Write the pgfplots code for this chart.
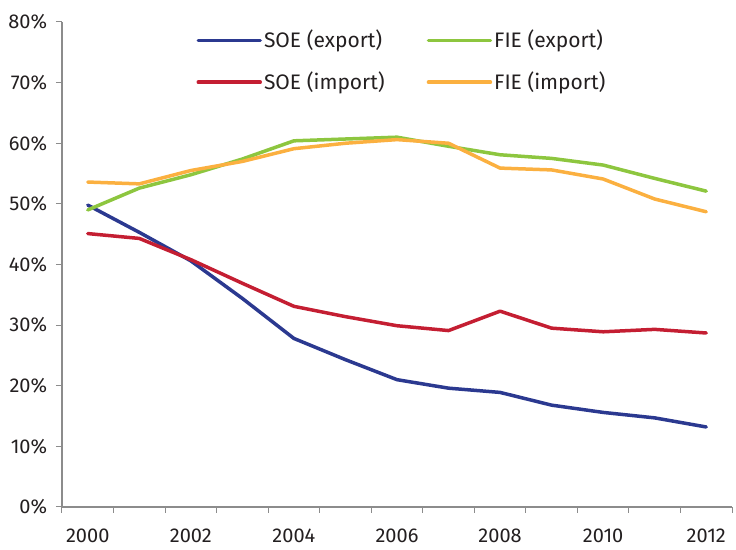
\documentclass[border=0pt]{standalone}
\usepackage{fontspec}
\setmainfont{Fira Sans}
\usepackage{pgfplots}
\pgfplotsset{compat=1.18}
\definecolor{soeexp}{HTML}{2B3990}
\definecolor{soeimp}{HTML}{C41E32}
\definecolor{fieexp}{HTML}{8DC63F}
\definecolor{fieimp}{HTML}{FBB040}
\definecolor{axgray}{HTML}{8C8C8C}
\definecolor{txt}{HTML}{231F20}
\begin{document}
\fontsize{20bp}{23bp}\selectfont
\begin{tikzpicture}
\begin{axis}[
  scale only axis,
  width=670bp, height=485bp,
  xmin=-0.5, xmax=12.5,
  ymin=0, ymax=80,
  axis x line*=bottom, axis y line*=left,
  axis line style={axgray, line width=1.3bp},
  xtick={0,2,4,6,8,10,12},
  xticklabels={2000,2002,2004,2006,2008,2010,2012},
  minor xtick={-0.5,0.5,...,12.5},
  tick align=outside,
  major x tick style={draw=none},
  minor tick length=6bp,
  major tick length=6bp,
  tick style={axgray, line width=1bp},
  ytick={0,10,...,80},
  yticklabel={\pgfmathprintnumber{\tick}\%},
  /pgf/number format/assume math mode=true,
  ticklabel style={font=\fontsize{20bp}{23bp}\selectfont, text=txt},
  xticklabel style={yshift=-9bp},
  yticklabel style={xshift=-2bp},
  legend columns=2,
  legend cell align=left,
  legend style={at={(0.196,0.992)}, anchor=north west, draw=none, fill=none,
    font=\fontsize{21bp}{24bp}\selectfont, text=txt,
    /tikz/every even column/.append style={column sep=40bp},
    row sep=17bp},
  legend image code/.code={\draw[#1, line width=3.5bp] (0bp,0bp) -- (62bp,0bp);},
  every axis plot/.append style={line width=3.5bp, line join=round, line cap=round},
]
\addplot[soeexp] coordinates {(0,49.8)(1,45.3)(2,40.6)(3,34.4)(4,27.8)(5,24.3)(6,21.0)(7,19.6)(8,18.9)(9,16.8)(10,15.6)(11,14.7)(12,13.2)};
\addlegendentry{SOE (export)}
\addplot[fieexp] coordinates {(0,49.0)(1,52.6)(2,54.8)(3,57.4)(4,60.4)(5,60.7)(6,61.0)(7,59.5)(8,58.1)(9,57.5)(10,56.4)(11,54.2)(12,52.1)};
\addlegendentry{FIE (export)}
\addplot[soeimp] coordinates {(0,45.1)(1,44.3)(2,40.8)(3,36.9)(4,33.1)(5,31.4)(6,29.9)(7,29.1)(8,32.3)(9,29.5)(10,28.9)(11,29.3)(12,28.7)};
\addlegendentry{SOE (import)}
\addplot[fieimp] coordinates {(0,53.6)(1,53.3)(2,55.5)(3,57.0)(4,59.1)(5,60.0)(6,60.6)(7,60.0)(8,55.9)(9,55.6)(10,54.1)(11,50.8)(12,48.7)};
\addlegendentry{FIE (import)}
\end{axis}
\path (-62bp,-38bp) rectangle (674bp,507bp);
\end{tikzpicture}
\end{document}
